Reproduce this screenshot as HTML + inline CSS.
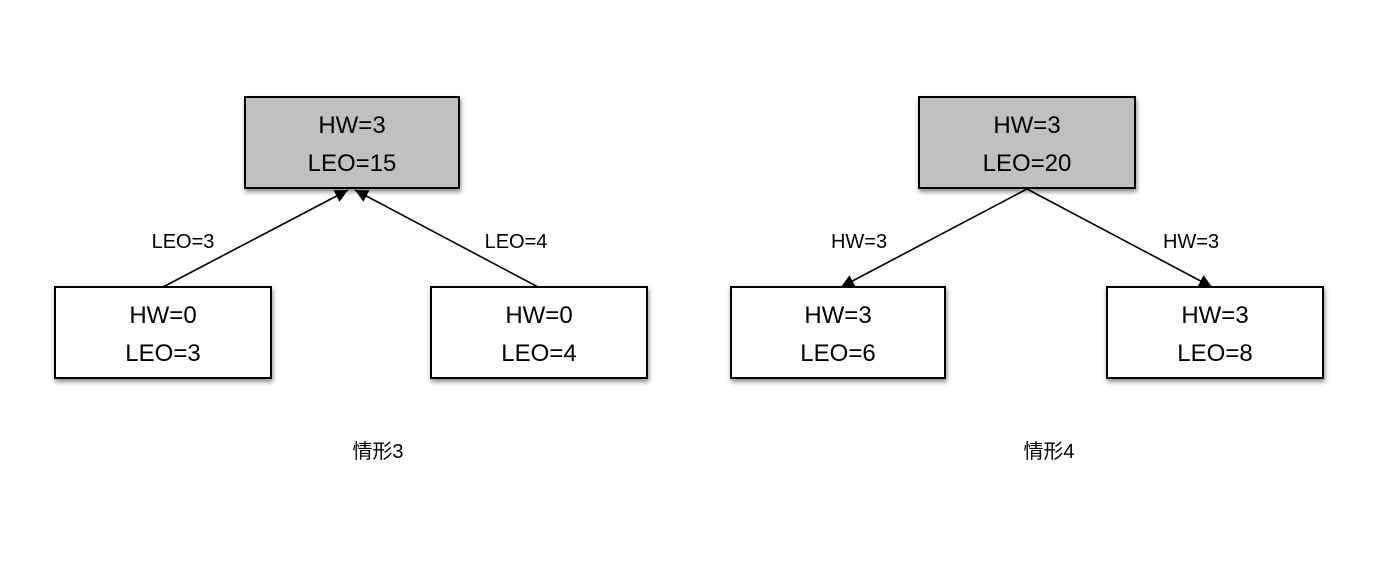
<!DOCTYPE html>
<html><head><meta charset="utf-8"><style>
body{margin:0;background:#fff;}
svg text{font-family:"Liberation Sans","Noto Sans CJK SC",sans-serif;}
</style></head><body>
<svg width="1382" height="556" viewBox="0 0 1382 556" xmlns="http://www.w3.org/2000/svg">
<defs>
<filter id="sh" x="-10%" y="-10%" width="130%" height="140%"><feDropShadow dx="1" dy="3" stdDeviation="2.5" flood-color="#000" flood-opacity="0.45"/></filter>
<marker id="ar" viewBox="0 0 10 10" refX="10" refY="5" markerWidth="13" markerHeight="13" markerUnits="userSpaceOnUse" orient="auto"><path d="M0,0L10,5L0,10z" fill="#000"/></marker>
</defs>
<g stroke="#000" stroke-width="2" filter="url(#sh)">
<rect x="245" y="97" width="214" height="91" fill="#c0c0c0"/>
<rect x="55" y="287" width="216" height="91" fill="#fff"/>
<rect x="431" y="287" width="216" height="91" fill="#fff"/>
<rect x="919" y="97" width="216" height="91" fill="#c0c0c0"/>
<rect x="731" y="287" width="214" height="91" fill="#fff"/>
<rect x="1107" y="287" width="216" height="91" fill="#fff"/>
</g>
<g stroke="#000" stroke-width="1.6" marker-end="url(#ar)">
<line x1="163" y1="287" x2="348" y2="190"/>
<line x1="538" y1="287" x2="355" y2="190"/>
<line x1="1027" y1="189" x2="841" y2="287"/>
<line x1="1027" y1="189" x2="1212" y2="287"/>
</g>
<g font-size="24" text-anchor="middle" fill="#000">
<text x="352" y="133">HW=3</text><text x="352" y="171">LEO=15</text>
<text x="163" y="323">HW=0</text><text x="163" y="361">LEO=3</text>
<text x="539" y="323">HW=0</text><text x="539" y="361">LEO=4</text>
<text x="1027" y="133">HW=3</text><text x="1027" y="171">LEO=20</text>
<text x="838" y="323">HW=3</text><text x="838" y="361">LEO=6</text>
<text x="1215" y="323">HW=3</text><text x="1215" y="361">LEO=8</text>
</g>
<g font-size="20" text-anchor="middle" fill="#000">
<text x="183" y="248">LEO=3</text>
<text x="516" y="248">LEO=4</text>
<text x="859" y="248">HW=3</text>
<text x="1191" y="248">HW=3</text>
<text x="378" y="458">情形3</text>
<text x="1049" y="458">情形4</text>
</g>
</svg>
</body></html>
